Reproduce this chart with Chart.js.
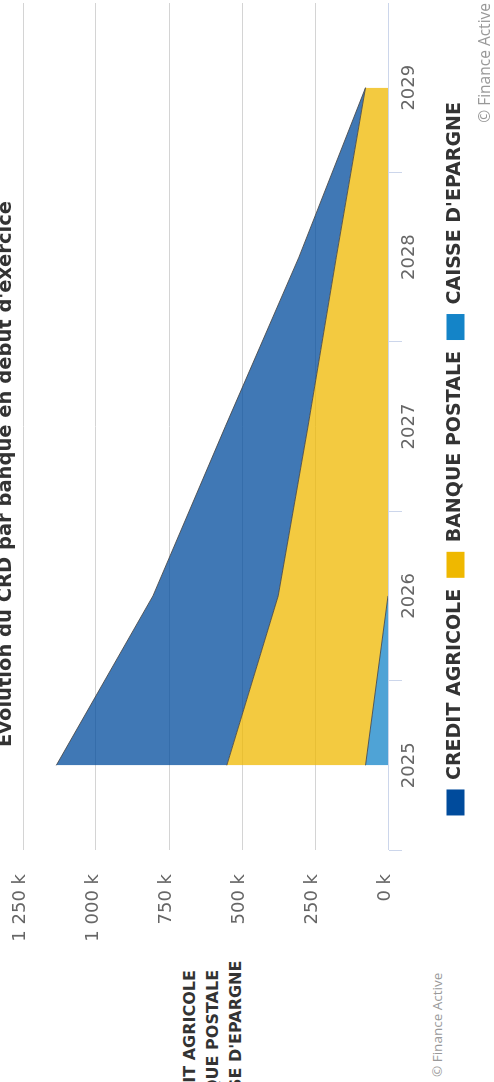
<!DOCTYPE html>
<html>
<head>
<meta charset="utf-8">
<script src="https://cdn.jsdelivr.net/npm/chart.js@4.4.1/dist/chart.umd.min.js"></script>
<style>
  html, body { margin:0; padding:0; background:#fff; width:494px; height:1082px; overflow:hidden; }
  #stage { position:absolute; left:0; top:0; width:1082px; height:494px; transform-origin:0 0;
           transform:translateY(1082px) rotate(-90deg); overflow:hidden; background:#fff; }
  #chart { position:absolute; left:130px; top:0; width:949px; height:494px; }
  #title { position:absolute; left:308px; top:-5px; width:600px; text-align:center; white-space:nowrap;
           font:bold 19.5px/20px "DejaVu Sans", sans-serif; color:#333; }
  #credit1 { position:absolute; right:3px; top:474px; white-space:nowrap;
             font:15.5px/20px "Open Sans", sans-serif; color:#999; }
  #credit2 { position:absolute; left:5px; top:427.5px; white-space:nowrap;
             font:13.5px/18px "Open Sans", sans-serif; color:#999; }
  #clip { position:absolute; left:0; top:170px; width:121px; height:80px; overflow:hidden; }
  #clip div { position:absolute; left:-49px; top:7.8px; white-space:nowrap;
              font:bold 16px/23.3px "DejaVu Sans", sans-serif; color:#333; }
</style>
</head>
<body>
<div id="stage">
  <canvas id="chart" width="949" height="494"></canvas>
  <div id="title">Évolution du CRD par banque en début d'exercice</div>
  <div id="credit1">© Finance Active</div>
  <div id="credit2">© Finance Active</div>
  <div id="clip"><div>CREDIT AGRICOLE<br>BANQUE POSTALE<br>CAISSE D'EPARGNE</div></div>
</div>
<script>
// ---- data ----
const years = ['2025', '2026', '2027', '2028', '2029'];
const caisseEpargne  = [77000, 0, 0, 0, 0];
const banquePostale  = [475000, 376000, 274000, 177000, 77000];
const creditAgricole = [584000, 429000, 283000, 128000, 0];
const seriesNames = ['CAISSE D\'EPARGNE', 'BANQUE POSTALE', 'CREDIT AGRICOLE'];
const yTicks = [0, 250000, 500000, 750000, 1000000, 1250000];

const solid = ['#1484c8', '#efb800', '#004b9c'];
const fills = ['rgba(20,132,200,0.75)', 'rgba(239,184,0,0.75)', 'rgba(0,75,156,0.75)'];
const lineCol = 'rgba(70,70,70,0.85)';

function fmtK(v) {
  const k = Math.round(v / 1000);
  return String(k).replace(/\B(?=(\d{3})+(?!\d))/g, ' ') + ' k';
}

// outline of the Caisse d'Epargne area only where it is non-zero
const ceOutline = caisseEpargne.map((v, i) => (v !== 0 || (i > 0 && caisseEpargne[i - 1] !== 0)) ? v : null);

const legendShift = {
  id: 'legendShift',
  afterLayout(chart) {
    const l = chart.legend;
    if (!l) return;
    const target = 623.2 - 130;
    const d = target - (l.left + l.right) / 2;
    l.left += d; l.right += d;
  }
};

const mk = (i, data, fill, border) => ({
  label: seriesNames[i],
  data: data,
  backgroundColor: fills[i],
  borderColor: border,
  borderWidth: 1,
  fill: fill,
  pointRadius: 0,
  pointHoverRadius: 0,
  tension: 0,
  stack: 'main'
});

new Chart(document.getElementById('chart'), {
  type: 'line',
  data: {
    labels: years,
    datasets: [
      mk(0, caisseEpargne, 'origin', 'rgba(0,0,0,0)'),
      mk(1, banquePostale, '-1', lineCol),
      mk(2, creditAgricole, '-1', lineCol),
      {
        label: 'ce-outline',
        data: ceOutline,
        borderColor: lineCol,
        borderWidth: 1,
        fill: false,
        pointRadius: 0,
        pointHoverRadius: 0,
        tension: 0,
        stack: 'outline',
        order: -1
      }
    ]
  },
  options: {
    responsive: false,
    devicePixelRatio: 1,
    animation: false,
    layout: { padding: { top: 23, bottom: 19, left: 0, right: 0 } },
    plugins: {
      title: { display: false },
      tooltip: { enabled: false },
      legend: {
        position: 'bottom',
        reverse: true,
        labels: {
          font: { family: 'DejaVu Sans', size: 19, weight: 'bold' },
          color: '#333333',
          boxWidth: 26,
          boxHeight: 18,
          padding: 11,
          filter: item => item.datasetIndex < 3,
          generateLabels(chart) {
            const items = Chart.defaults.plugins.legend.labels.generateLabels(chart);
            items.forEach(it => {
              if (it.datasetIndex < 3) {
                it.fillStyle = solid[it.datasetIndex];
                it.strokeStyle = solid[it.datasetIndex];
              }
              it.lineWidth = 0;
            });
            return items;
          }
        }
      }
    },
    scales: {
      x: {
        type: 'category',
        offset: true,
        grid: { offset: true, drawOnChartArea: false, drawTicks: true, tickLength: 14, color: '#ccd6eb', lineWidth: 1 },
        border: { display: true, color: '#ccd6eb', width: 1 },
        ticks: { color: '#666666', font: { family: 'DejaVu Sans', size: 18 }, padding: -3, maxRotation: 0, autoSkip: false },
        afterFit(s) { s.height = 47; }
      },
      y: {
        stacked: true,
        min: 0,
        max: 1250000,
        afterBuildTicks(s) { s.ticks = yTicks.map(v => ({ value: v })); },
        ticks: {
          stepSize: 250000,
          color: '#666666',
          font: { family: 'DejaVu Sans', size: 18 },
          padding: 0,
          labelOffset: -2.5,
          callback: v => fmtK(v)
        },
        grid: { color: '#d4d4d4', lineWidth: 1, drawTicks: true, tickLength: 24, tickColor: 'rgba(0,0,0,0)' },
        border: { display: false },
        afterFit(s) { s.width = 102; }
      }
    }
  },
  plugins: [legendShift]
});
</script>
</body>
</html>
